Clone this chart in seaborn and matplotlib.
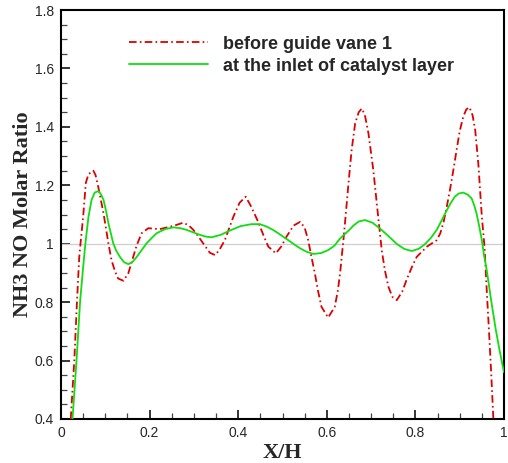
import matplotlib
matplotlib.use("Agg")
import matplotlib.pyplot as plt
from matplotlib.ticker import MultipleLocator, FuncFormatter
import pandas as pd
import seaborn as sns

# NH3/NO molar ratio along the normalised width X/H
vane_x = [0.022, 0.030, 0.036, 0.041, 0.044, 0.050, 0.056, 0.062, 0.073, 0.078,
          0.084, 0.096, 0.107, 0.114, 0.122, 0.129, 0.141, 0.152, 0.162, 0.171,
          0.182, 0.197, 0.223, 0.254, 0.276, 0.288, 0.299, 0.310, 0.321, 0.336,
          0.348, 0.358, 0.370, 0.389, 0.403, 0.417, 0.430, 0.445, 0.458, 0.468,
          0.485, 0.497, 0.509, 0.525, 0.540, 0.550, 0.558, 0.566, 0.573, 0.580,
          0.588, 0.603, 0.618, 0.625, 0.630, 0.639, 0.649, 0.656, 0.664, 0.672,
          0.679, 0.686, 0.694, 0.705, 0.716, 0.724, 0.731, 0.739, 0.748, 0.758,
          0.770, 0.780, 0.792, 0.803, 0.826, 0.848, 0.856, 0.863, 0.870, 0.878,
          0.886, 0.893, 0.900, 0.908, 0.915, 0.922, 0.929, 0.935, 0.942, 0.950,
          0.956, 0.961, 0.966, 0.971, 0.976]
vane_y = [0.400, 0.600, 0.800, 0.950, 1.000, 1.092, 1.208, 1.238, 1.250, 1.235,
          1.195, 1.104, 1.001, 0.944, 0.905, 0.881, 0.873, 0.899, 0.950, 0.995,
          1.036, 1.053, 1.050, 1.061, 1.072, 1.063, 1.047, 1.025, 1.001, 0.969,
          0.961, 0.980, 1.013, 1.092, 1.140, 1.161, 1.125, 1.075, 1.025, 0.990,
          0.967, 0.990, 1.024, 1.062, 1.075, 1.055, 1.012, 0.950, 0.899, 0.840,
          0.784, 0.747, 0.784, 0.840, 0.899, 1.036, 1.207, 1.320, 1.412, 1.450,
          1.463, 1.440, 1.378, 1.252, 1.092, 0.978, 0.910, 0.853, 0.818, 0.807,
          0.835, 0.876, 0.920, 0.955, 0.990, 1.012, 1.035, 1.070, 1.120, 1.184,
          1.255, 1.321, 1.385, 1.435, 1.460, 1.467, 1.440, 1.389, 1.275, 1.092,
          0.990, 0.841, 0.705, 0.560, 0.400]

inlet_x = [0.026, 0.035, 0.043, 0.050, 0.055, 0.062, 0.069, 0.076, 0.084, 0.090,
           0.096, 0.102, 0.107, 0.118, 0.125, 0.133, 0.142, 0.152, 0.161, 0.171,
           0.182, 0.193, 0.205, 0.216, 0.235, 0.254, 0.270, 0.284, 0.300, 0.314,
           0.328, 0.340, 0.360, 0.381, 0.405, 0.430, 0.449, 0.465, 0.479, 0.496,
           0.513, 0.527, 0.540, 0.555, 0.570, 0.587, 0.603, 0.617, 0.630, 0.652,
           0.660, 0.672, 0.686, 0.703, 0.720, 0.740, 0.758, 0.775, 0.792, 0.808,
           0.822, 0.835, 0.848, 0.860, 0.871, 0.880, 0.889, 0.898, 0.908, 0.918,
           0.927, 0.933, 0.938, 0.944, 0.950, 0.955, 0.961, 0.972, 0.981, 0.990,
           1.000]
inlet_y = [0.400, 0.600, 0.800, 0.920, 1.000, 1.092, 1.150, 1.175, 1.180, 1.170,
           1.150, 1.110, 1.070, 1.001, 0.975, 0.955, 0.937, 0.930, 0.937, 0.955,
           0.978, 1.001, 1.020, 1.036, 1.050, 1.056, 1.053, 1.047, 1.038, 1.030,
           1.024, 1.022, 1.030, 1.045, 1.060, 1.067, 1.067, 1.058, 1.047, 1.030,
           1.012, 0.997, 0.984, 0.972, 0.965, 0.968, 0.978, 0.993, 1.018, 1.049,
           1.062, 1.076, 1.081, 1.072, 1.052, 1.025, 0.999, 0.982, 0.975, 0.983,
           0.999, 1.020, 1.047, 1.082, 1.115, 1.140, 1.161, 1.172, 1.175, 1.168,
           1.155, 1.130, 1.104, 1.060, 1.012, 0.960, 0.910, 0.796, 0.710, 0.635,
           0.560]

series_names = ["before guide vane 1", "at the inlet of catalyst layer"]
x_ticks = [0, 0.2, 0.4, 0.6, 0.8, 1]
y_ticks = [0.4, 0.6, 0.8, 1, 1.2, 1.4, 1.6, 1.8]

df = pd.concat([
    pd.DataFrame({"X/H": vane_x, "ratio": vane_y, "series": series_names[0]}),
    pd.DataFrame({"X/H": inlet_x, "ratio": inlet_y, "series": series_names[1]}),
], ignore_index=True)

sns.set_style("ticks")
plt.rcParams["font.family"] = ["Liberation Sans", "DejaVu Sans"]

fig = plt.figure(figsize=(5.08, 4.63), dpi=100)
ax = fig.add_axes([61 / 508, 44 / 463, 443 / 508, 409 / 463])

# reference level
ax.axhline(1.0, color="#cfcfcf", lw=0.9, zorder=1)

sns.lineplot(data=df, x="X/H", y="ratio", hue="series", style="series",
             palette={series_names[0]: "#dd0000", series_names[1]: "#11dd11"},
             dashes={series_names[0]: (4.2, 1.8, 0.9, 1.8), series_names[1]: ""},
             sort=False, estimator=None, linewidth=1.3, ax=ax, zorder=3)

ax.set_xlim(0, 1)
ax.set_ylim(0.4, 1.8)
ax.set_xticks(x_ticks)
ax.set_yticks(y_ticks)
fmt = FuncFormatter(lambda v, p: f"{v:g}")
ax.xaxis.set_major_formatter(fmt)
ax.yaxis.set_major_formatter(fmt)
ax.xaxis.set_minor_locator(MultipleLocator(0.05))
ax.yaxis.set_minor_locator(MultipleLocator(0.05))
ax.tick_params(which="major", direction="in", length=6.5, width=1.1,
               labelsize=10, color="black", pad=5, top=False, right=False)
ax.tick_params(which="minor", direction="in", length=4.3, width=0.9,
               color="#444444", top=False, right=False)
for s in ax.spines.values():
    s.set_visible(True)
    s.set_linewidth(1.5)
    s.set_color("black")

label_font = dict(family=["Liberation Serif", "DejaVu Serif"], weight="bold", size=16)
ax.set_xlabel("X/H", labelpad=2, **label_font)
ax.set_ylabel("NH3 NO Molar Ratio", labelpad=1.5, **label_font)

handles, labels = ax.get_legend_handles_labels()
ax.legend(handles, labels, loc="upper left", bbox_to_anchor=(0.116, 0.977),
          frameon=False, handlelength=4.4, handletextpad=0.85, labelspacing=0.28,
          prop=dict(family=["Liberation Sans", "DejaVu Sans"], weight="bold", size=13))

fig.savefig("out.png", dpi=100)
